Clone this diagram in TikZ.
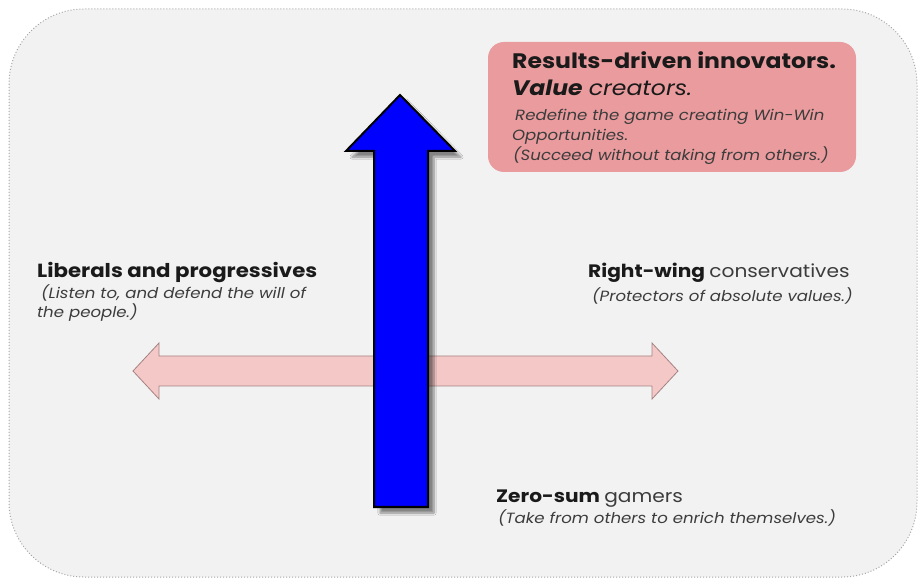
\documentclass[tikz,border=0pt]{standalone}
\usepackage{fontspec}
\setmainfont{Poppins}[FakeStretch=1.12]
\usetikzlibrary{shadows.blur}

\definecolor{panelgray}{RGB}{242,242,242}
\definecolor{boxred}{RGB}{234,155,157}
\definecolor{bandpink}{RGB}{245,200,200}
\definecolor{bandedge}{RGB}{165,130,130}
\definecolor{textdark}{RGB}{26,26,26}
\definecolor{textgray}{RGB}{60,60,60}

\begin{document}
\begin{tikzpicture}[x=1pt,y=-1pt,
  head/.style={anchor=base west,inner sep=0pt,text=textdark,
               font=\fontsize{19}{22}\selectfont\bfseries},
  note/.style={anchor=base west,inner sep=0pt,text=textgray,
               font=\fontsize{14.8}{20}\selectfont\itshape},
  big/.style={anchor=base west,inner sep=0pt,text=textdark,
              font=\fontsize{21}{24}\selectfont}]
  \useasboundingbox (0,0) rectangle (922,585);
  % panel
  \draw[gray!70,dotted,line width=1pt,fill=panelgray,rounded corners=75pt]
    (9,9) rectangle (917,577);
  % horizontal arrow
  \draw[fill=bandpink,draw=bandedge,line width=0.8pt]
    (133,371) -- (159,343) -- (159,356) -- (652,356) -- (652,343) -- (678,371)
    -- (652,399) -- (652,386) -- (159,386) -- (159,399) -- cycle;
  % vertical arrow
  \draw[fill=blue,line width=2pt,line join=miter,
        blur shadow={shadow xshift=6pt,shadow yshift=-6pt,shadow blur steps=8,shadow opacity=45}]
    (400,95) -- (455,151) -- (428,151) -- (428,507) -- (374,507) -- (374,151)
    -- (346,151) -- cycle;

  % top right box
  \fill[boxred,rounded corners=16pt] (488,42) rectangle (856,172);
  \node[big,font=\fontsize{21}{24}\selectfont\bfseries] (ri) at (512,69) {Results-driven innovators.};
  \node[big] (vc) at (512,96) {\textbf{\textit{Value}} \textit{creators.}};
  \node[note] (rg) at (515,121) {Redefine the game creating Win-Win};
  \node[note] (op) at (512,141) {Opportunities.};
  \node[note] (sw) at (513,161) {(Succeed without taking from others.)};

  \node[head] (lp) at (37,278) {Liberals and progressives};
  \node[note] (lt) at (41,299) {(Listen to, and defend the will of};
  \node[note] (pp) at (37,318) {the people.)};

  \node[head,font=\fontsize{18}{22}\selectfont\bfseries] (rw) at (588,278)
    {Right-wing {\mdseries\color{textgray} conservatives}};
  \node[note] (pa) at (592,302) {(Protectors of absolute values.)};

  \node[head,font=\fontsize{18}{22}\selectfont\bfseries] (zs) at (496,503)
    {Zero-sum {\mdseries\color{textgray} gamers}};
  \node[note] (tf) at (498,523) {(Take from others to enrich themselves.)};
\end{tikzpicture}
\end{document}
